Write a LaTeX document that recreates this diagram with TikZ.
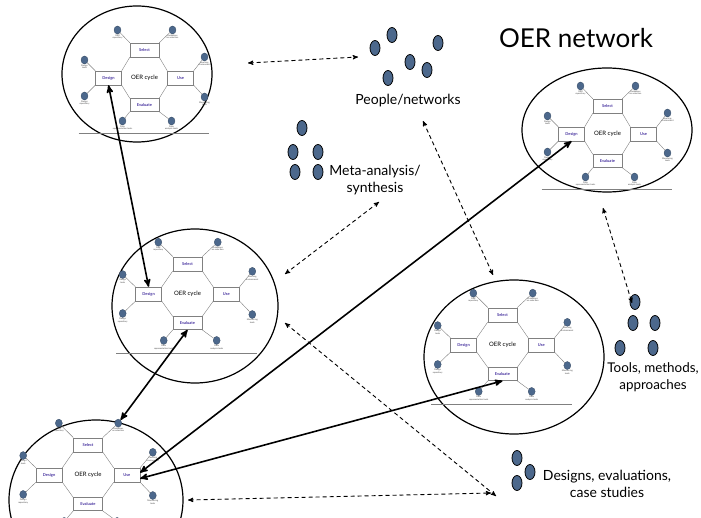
\documentclass[tikz,border=0pt]{standalone}
\usepackage{fontspec}
\setmainfont{Lato}
\usetikzlibrary{arrows,shapes.geometric}

\definecolor{dotblue}{RGB}{76,104,140}
\definecolor{boxtext}{RGB}{72,52,160}

\newif\ifbottomlabels
\bottomlabelstrue

\tikzset{
  group dot/.style={ellipse,draw=black,fill=dotblue,line width=0.8pt,minimum width=10pt,minimum height=15pt,inner sep=0pt},
  cycle dot/.style={ellipse,draw=dotblue!70!black,fill=dotblue,line width=0.3pt,minimum width=7pt,minimum height=8pt,inner sep=0pt},
  cycle box/.style={draw=gray,line width=0.4pt,fill=white,inner sep=0pt,text=boxtext,font=\fontsize{4}{4}\selectfont\bfseries},
  cycle line/.style={draw=gray,line width=0.4pt},
  tiny label/.style={below,inner sep=0.3pt,align=center,text=black!75,font=\fontsize{2.2}{2.5}\selectfont},
  big ellipse/.style={ellipse,draw=black,line width=1.2pt,inner sep=0pt},
  solid arrow/.style={<->,>=stealth',line width=1.6pt},
  dash arrow/.style={<->,>=stealth',line width=0.9pt,dash pattern=on 4pt off 3pt},
  group label/.style={align=center,font=\fontsize{14}{17}\selectfont},
  no bottom labels/.code={\bottomlabelsfalse},
  pics/oer cycle/.style={code={
    \node[cycle box,minimum width=29pt,minimum height=14pt] (-sel) at (0,-28) {Select};
    \node[cycle box,minimum width=26pt,minimum height=14pt] (-use) at (36,0) {Use};
    \node[cycle box,minimum width=29pt,minimum height=13pt] (-eva) at (0,27) {Evaluate};
    \node[cycle box,minimum width=26pt,minimum height=14pt] (-des) at (-36,0) {Design};
    \node[font=\fontsize{6}{6}\selectfont] (-name) at (0,0) {OER cycle};
    \draw[cycle line] (-sel.south east) -- (-use.north west)
      (-use.south west) -- (-eva.north east)
      (-eva.north west) -- (-des.south east)
      (-des.north east) -- (-sel.south west);
    \node[cycle dot] (-d1) at (-27,-48) {};
    \node[cycle dot] (-d2) at (28,-48) {};
    \node[cycle dot] (-d3) at (-60,-18) {};
    \node[cycle dot] (-d4) at (-60,18) {};
    \node[cycle dot] (-d5) at (60,-21) {};
    \node[cycle dot] (-d6) at (60,19) {};
    \node[cycle dot] (-d7) at (-22,43) {};
    \node[cycle dot] (-d8) at (27,43) {};
    \node[tiny label] at (-d1.south) {OER\\repository};
    \node[tiny label] at (-d2.south) {Guidelines\\on selection};
    \node[tiny label] at (-d3.south) {Design\\tools};
    \node[tiny label] at (-d4.south) {Design\\repository};
    \node[tiny label] at (-d5.south) {Learning\\environment};
    \node[tiny label] at (-d6.south) {Monitoring\\tools};
    \ifbottomlabels
    \node[tiny label] at (-d7.south) {Data\\representation tools};
    \node[tiny label] at (-d8.south) {Data\\analysis tools};
    \fi
    \draw[cycle line] (-sel.north west) -- (-d1) (-sel.north east) -- (-d2)
      (-des.north west) -- (-d3) (-des.south west) -- (-d4)
      (-use.north east) -- (-d5) (-use.south east) -- (-d6)
      (-eva.south west) -- (-d7) (-eva.south east) -- (-d8);
    \draw[cycle line] (-66,55) -- (64,55);
  }}
}

\begin{document}
\begin{tikzpicture}[x=1pt,y=-1pt]
  \useasboundingbox (0,0) rectangle (701,518);

  \node[big ellipse,minimum width=150pt,minimum height=136pt] (e1) at (137,74) {};
  \node[big ellipse,minimum width=170pt,minimum height=124pt] (e2) at (607,130) {};
  \node[big ellipse,minimum width=166pt,minimum height=154pt] (e3) at (195,306) {};
  \node[big ellipse,minimum width=180pt,minimum height=154pt] (e4) at (514,357) {};
  \node[big ellipse,minimum width=174pt,minimum height=160pt] (e5) at (96,500) {};

  \pic (c1) at (144.5,78) {oer cycle};
  \pic (c2) at (607.5,134) {oer cycle};
  \pic[scale=1.08] (c3) at (187.5,294) {oer cycle};
  \pic[scale=1.08] (c4) at (502.5,345) {oer cycle};
  \pic[scale=1.08,no bottom labels] (c5) at (88,475) {oer cycle};

  \node[font=\fontsize{26}{30}\selectfont] (title) at (576,38) {OER network};

  \node[group dot] (p1) at (375,48) {};
  \node[group dot] (p2) at (392,35) {};
  \node[group dot] (p3) at (438,43) {};
  \node[group dot] (p4) at (410,62) {};
  \node[group dot] (p5) at (427,70) {};
  \node[group dot] (p6) at (388,78) {};
  \node[group label] (people) at (408,101) {People/networks};

  \node[group dot] (m1) at (302,128) {};
  \node[group dot] (m2) at (293,152) {};
  \node[group dot] (m3) at (318,152) {};
  \node[group dot] (m4) at (295,172) {};
  \node[group dot] (m5) at (318,172) {};
  \node[group label] (meta) at (375,180) {Meta-analysis/\\synthesis};

  \node[group dot] (t1) at (635,302) {};
  \node[group dot] (t2) at (633,323) {};
  \node[group dot] (t3) at (655,323) {};
  \node[group dot] (t4) at (620,348) {};
  \node[group dot] (t5) at (653,348) {};
  \node[group label,font=\fontsize{13.4}{16.5}\selectfont] (tools) at (653,377) {Tools, methods,\\approaches};

  \node[group dot] (g1) at (517,458) {};
  \node[group dot] (g2) at (530,472) {};
  \node[group dot] (g3) at (517,483) {};
  \node[group label] (designs) at (607,484) {Designs, evaluations,\\case studies};

  \coordinate (e1-out) at (248,63);
  \coordinate (people-in) at (358,57);
  \coordinate (meta-in) at (379,202);
  \coordinate (e3-out) at (285,274);
  \coordinate (people-out) at (423,121);
  \coordinate (e4-out) at (493,275);
  \coordinate (e3-low) at (285,323);
  \coordinate (designs-in) at (496,496);
  \coordinate (e2-out) at (603,208);
  \coordinate (tools-in) at (632,303);
  \coordinate (e5-out) at (188,500);
  \coordinate (designs-low) at (491,493);

  \draw[dash arrow] (e1-out) -- (people-in);
  \draw[dash arrow] (meta-in) -- (e3-out);
  \draw[dash arrow] (people-out) -- (e4-out);
  \draw[dash arrow] (e3-low) -- (designs-in);
  \draw[dash arrow] (e2-out) -- (tools-in);
  \draw[dash arrow] (e5-out) -- (designs-low);

  \draw[solid arrow] (c1-des.south) -- (c3-des.north);
  \draw[solid arrow] (c3-eva.south) -- (c5-d2);
  \draw[solid arrow] (c5-use.10) -- (c2-des.south);
  \draw[solid arrow] (c5-use.-15) -- (c4-eva.south);
\end{tikzpicture}
\end{document}
